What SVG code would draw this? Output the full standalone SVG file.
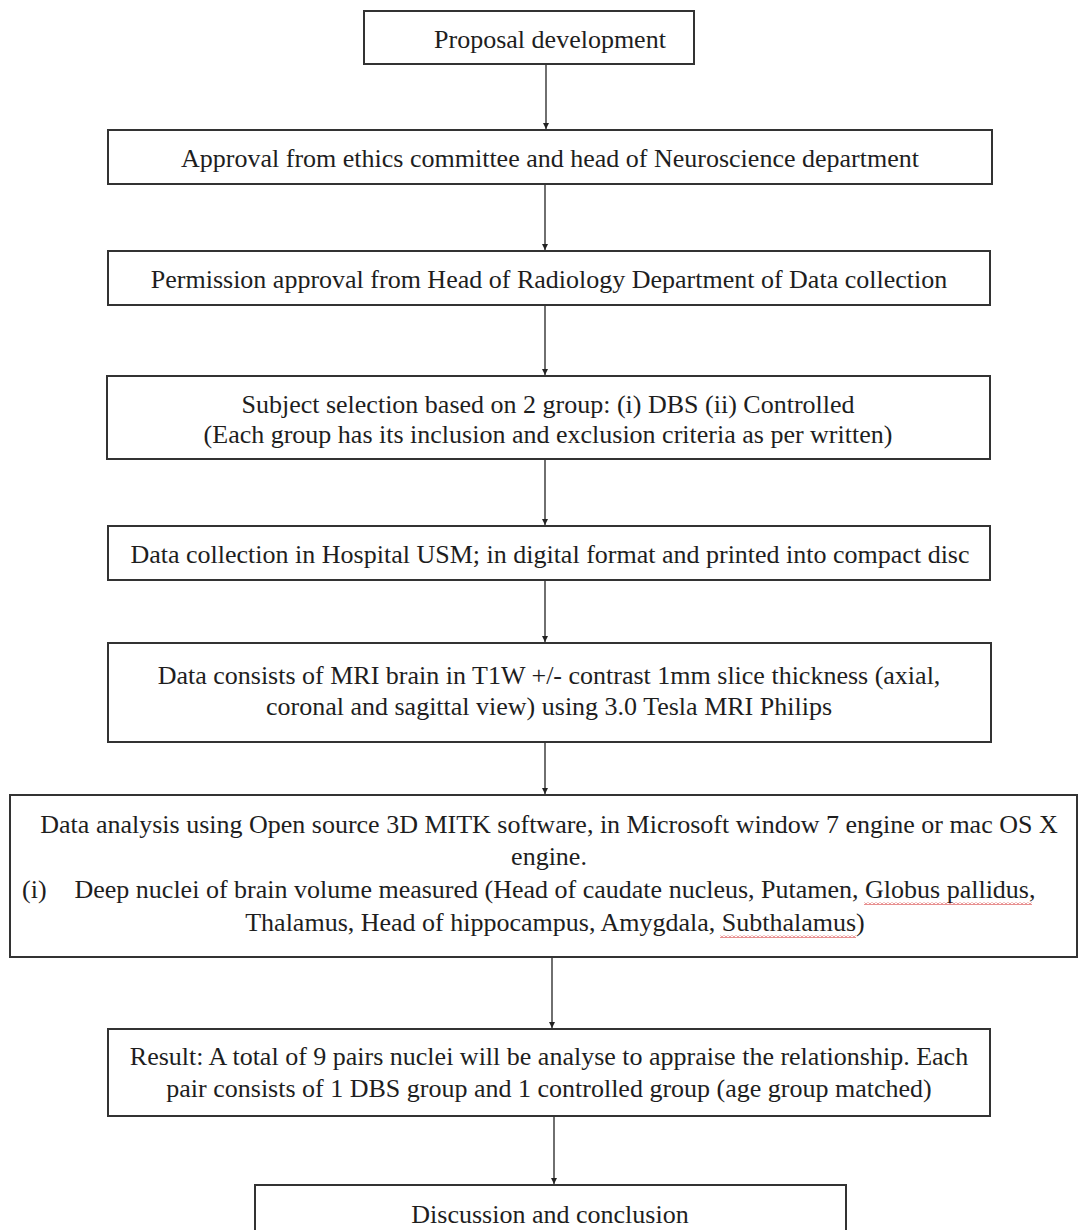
<svg xmlns="http://www.w3.org/2000/svg" width="1078" height="1230" viewBox="0 0 1078 1230">
<defs>
<marker id="ah" viewBox="0 0 8 8" refX="8" refY="4" markerWidth="6" markerHeight="6" markerUnits="userSpaceOnUse" orient="auto">
<path d="M0,0 L8,4 L0,8 z" fill="#222"/>
</marker>
<pattern id="wave" x="0" y="0" width="4" height="3" patternUnits="userSpaceOnUse">
<path d="M0,2.5 L2,0.5 L4,2.5" stroke="#d02020" stroke-width="1" fill="none"/>
</pattern>
<style>
.box{fill:#fff;stroke:#333;stroke-width:2}
.t{font-family:"Liberation Serif","Times New Roman",serif;font-size:26px;fill:#1e1e1e;text-anchor:middle}
.tl{font-family:"Liberation Serif","Times New Roman",serif;font-size:26px;fill:#1e1e1e}
.c{stroke:#222;stroke-width:1.3;fill:none;marker-end:url(#ah)}
.sq{fill:url(#wave)}
</style>
</defs>
<rect width="1078" height="1230" fill="#fff"/>
<g id="connectors">
<line class="c" x1="546" y1="64" x2="546" y2="129"/>
<line class="c" x1="545" y1="184" x2="545" y2="250"/>
<line class="c" x1="545" y1="305" x2="545" y2="375"/>
<line class="c" x1="545" y1="459" x2="545" y2="525"/>
<line class="c" x1="545" y1="580" x2="545" y2="642"/>
<line class="c" x1="545" y1="742" x2="545" y2="794"/>
<line class="c" x1="552" y1="957" x2="552" y2="1028"/>
<line class="c" x1="554" y1="1116" x2="554" y2="1184"/>
</g>
<g id="n1">
<rect class="box" x="364" y="11" width="330" height="53"/>
<text class="t" x="550" y="48">Proposal development</text>
</g>
<g id="n2">
<rect class="box" x="108" y="130" width="884" height="54"/>
<text class="t" x="550" y="167">Approval from ethics committee and head of Neuroscience department</text>
</g>
<g id="n3">
<rect class="box" x="108" y="251" width="882" height="54"/>
<text class="t" x="549" y="288">Permission approval from Head of Radiology Department of Data collection</text>
</g>
<g id="n4">
<rect class="box" x="107" y="376" width="883" height="83"/>
<text class="t" x="548" y="413">Subject selection based on 2 group: (i) DBS (ii) Controlled</text>
<text class="t" x="548" y="443">(Each group has its inclusion and exclusion criteria as per written)</text>
</g>
<g id="n5">
<rect class="box" x="108" y="526" width="882" height="54"/>
<text class="t" x="550" y="563">Data collection in Hospital USM; in digital format and printed into compact disc</text>
</g>
<g id="n6">
<rect class="box" x="108" y="643" width="883" height="99"/>
<text class="t" x="549" y="684">Data consists of MRI brain in T1W +/- contrast 1mm slice thickness (axial,</text>
<text class="t" x="549" y="715">coronal and sagittal view) using 3.0 Tesla MRI Philips</text>
</g>
<g id="n7">
<rect class="box" x="10" y="795" width="1067" height="162"/>
<text class="t" x="549" y="833">Data analysis using Open source 3D MITK software, in Microsoft window 7 engine or mac OS X</text>
<text class="t" x="549" y="865">engine.</text>
<text class="tl" x="22" y="898">(i)</text>
<text class="t" x="555" y="898">Deep nuclei of brain volume measured (Head of caudate nucleus, Putamen, Globus pallidus,</text>
<text class="t" x="555" y="931">Thalamus, Head of hippocampus, Amygdala, Subthalamus)</text>
<rect class="sq" x="864" y="902" width="168" height="3"/>
<rect class="sq" x="720" y="935" width="136" height="3"/>
</g>
<g id="n8">
<rect class="box" x="108" y="1029" width="882" height="87"/>
<text class="t" x="549" y="1065">Result: A total of 9 pairs nuclei will be analyse to appraise the relationship. Each</text>
<text class="t" x="549" y="1097">pair consists of 1 DBS group and 1 controlled group (age group matched)</text>
</g>
<g id="n9">
<rect class="box" x="255" y="1185" width="591" height="60"/>
<text class="t" x="550" y="1223">Discussion and conclusion</text>
</g>
</svg>
